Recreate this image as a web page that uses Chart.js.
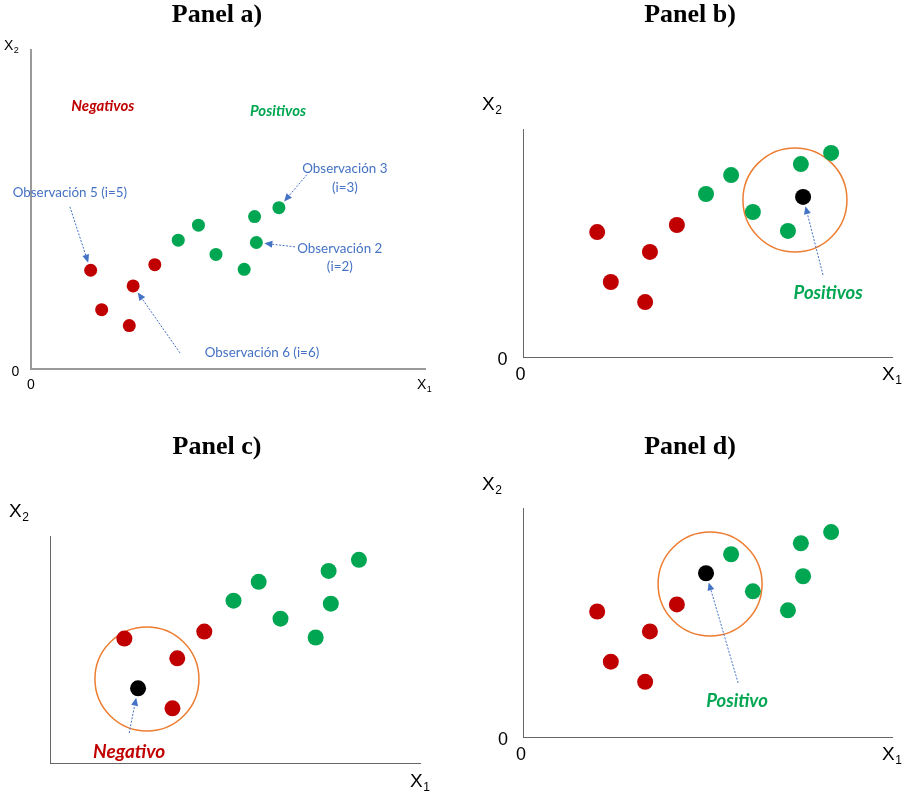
<!DOCTYPE html>
<html>
<head>
<meta charset="utf-8">
<script src="https://cdn.jsdelivr.net/npm/chart.js@4.4.0/dist/chart.umd.min.js"></script>
<style>
html, body { margin: 0; padding: 0; background: #fff; }
#wrap { position: relative; width: 911px; height: 793px; overflow: hidden; }
canvas { position: absolute; }
</style>
</head>
<body>
<div id="wrap">
  <canvas id="pa" width="455" height="400" style="left:0;top:0"></canvas>
  <canvas id="pb" width="456" height="400" style="left:455px;top:0"></canvas>
  <canvas id="pc" width="455" height="393" style="left:0;top:400px"></canvas>
  <canvas id="pd" width="456" height="393" style="left:455px;top:400px"></canvas>
</div>
<script>
// observaciones (las mismas 12 en los cuatro paneles)
const x1 = [20.1, 23.8, 33.1, 34.4, 41.7, 49.6, 56.4, 62.3, 71.8, 75.3, 83.5, 75.9];
const x2 = [54.8, 32.9, 24.1, 46.1, 57.9, 71.5, 79.8, 63.6, 55.3, 84.6, 89.5, 70.2];
const clase = ['N', 'N', 'N', 'N', 'N', 'P', 'P', 'P', 'P', 'P', 'P', 'P'];

const titulos = ['Panel a)', 'Panel b)', 'Panel c)', 'Panel d)'];
const nuevaObs = [null, 11, 1, 5];          // punto negro de cada panel
const vecX = [null, 73.7, 26.2, 50.7];      // centro del vecindario
const vecY = [null, 68.9, 37.0, 66.8];
const xMax = [132.7, 100, 100, 100];
const yMax = [177, 100, 100, 100];

const ROJO = '#C00000', VERDE = '#00A651', AZUL = '#4472C4', NARANJA = '#ED7D31';

// layout / texto de cada panel
const panels = [
  {
    id: 'pa', pad: { left: 31, top: 50, right: 30, bottom: 31 }, r: 6.5,
    axis: { color: '#9a9a9a', width: 2 },
    title: { x: 217, y: 15 },
    xLab: { x: 417, y: 389, size: 14 }, yLab: { x: 4, y: 50, size: 14 },
    zeros: [{ x: 15.5, y: 372 }, { x: 31, y: 385 }], zeroSize: 14,
    labels: [
      { t: 'Negativos', x: 24.2, y: 145.6, c: ROJO, f: 'italic bold 15px Lato' },
      { t: 'Positivos', x: 83.2, y: 142.8, c: VERDE, f: 'italic bold 15px Lato' },
      { t: 'Observación 3', x: 105.7, y: 111.1, c: AZUL, f: '13.4px Lato' },
      { t: '(i=3)', x: 105.7, y: 100.6, c: AZUL, f: '13.4px Lato' },
      { t: 'Observación 5 (i=5)', x: 13.1, y: 97.8, c: AZUL, f: '13.4px Lato' },
      { t: 'Observación 2', x: 104, y: 66.7, c: AZUL, f: '13.4px Lato' },
      { t: '(i=2)', x: 104, y: 56.7, c: AZUL, f: '13.4px Lato' },
      { t: 'Observación 6 (i=6)', x: 77.8, y: 8.9, c: AZUL, f: '13.4px Lato' }
    ],
    arrows: [
      { x: 92.9, y: 107.8, to: 10 },
      { x: 13.1, y: 90, to: 0 },
      { x: 88.9, y: 67.8, to: 11 },
      { x: 50.2, y: 8.9, to: 3 }
    ]
  },
  {
    id: 'pb', pad: { left: 68, top: 129, right: 19, bottom: 43 }, r: 8,
    axis: { color: '#666', width: 1 },
    title: { x: 235, y: 15 },
    xLab: { x: 427, y: 380, size: 19 }, yLab: { x: 27, y: 110, size: 19 },
    zeros: [{ x: 47.5, y: 360 }, { x: 65.5, y: 375 }], zeroSize: 18,
    labels: [
      { t: 'Positivos', x: 82.7, y: 28.1, c: VERDE, f: 'italic bold 18.5px Lato' }
    ],
    arrows: [{ x: 81.3, y: 36, to: 11 }]
  },
  {
    id: 'pc', pad: { left: 50, top: 136, right: 35, bottom: 30 }, r: 8,
    axis: { color: '#666', width: 1 },
    title: { x: 217, y: 47 },
    xLab: { x: 410, y: 387, size: 19 }, yLab: { x: 9, y: 117, size: 19 },
    zeros: [], zeroSize: 18,
    labels: [
      { t: 'Negativo', x: 21.4, y: 4.8, c: ROJO, f: 'italic bold 19px Lato' }
    ],
    arrows: [{ x: 21.4, y: 13.2, to: 1 }]
  },
  {
    id: 'pd', pad: { left: 68, top: 108, right: 19, bottom: 56 }, r: 8,
    axis: { color: '#666', width: 1 },
    title: { x: 235, y: 47 },
    xLab: { x: 427, y: 360, size: 19 }, yLab: { x: 27, y: 90, size: 19 },
    zeros: [{ x: 48, y: 340 }, { x: 66, y: 355 }], zeroSize: 18,
    labels: [
      { t: 'Positivo', x: 58, y: 15.7, c: VERDE, f: 'italic bold 18.5px Lato' }
    ],
    arrows: [{ x: 58.3, y: 23.6, to: 5 }]
  }
];

function drawSub(ctx, x, base, sub, size) {
  ctx.font = size + 'px "Liberation Sans"';
  ctx.textAlign = 'left';
  ctx.textBaseline = 'alphabetic';
  ctx.fillStyle = '#000';
  ctx.fillText('X', x, base);
  const w = ctx.measureText('X').width;
  ctx.font = Math.round(size * 0.62) + 'px "Liberation Sans"';
  ctx.fillText(sub, x + w + 0.5, base + size * 0.22);
}

function drawArrow(ctx, sx, sy, ex, ey) {
  const ang = Math.atan2(ey - sy, ex - sx);
  const head = 8;
  ctx.save();
  ctx.strokeStyle = AZUL;
  ctx.fillStyle = AZUL;
  ctx.lineWidth = 1;
  ctx.setLineDash([2, 1.5]);
  ctx.beginPath();
  ctx.moveTo(sx, sy);
  ctx.lineTo(ex - Math.cos(ang) * head, ey - Math.sin(ang) * head);
  ctx.stroke();
  ctx.setLineDash([]);
  ctx.beginPath();
  ctx.moveTo(ex, ey);
  ctx.lineTo(ex - Math.cos(ang) * head - Math.sin(ang) * 3.5, ey - Math.sin(ang) * head + Math.cos(ang) * 3.5);
  ctx.lineTo(ex - Math.cos(ang) * head + Math.sin(ang) * 3.5, ey - Math.sin(ang) * head - Math.cos(ang) * 3.5);
  ctx.closePath();
  ctx.fill();
  ctx.restore();
}

function makeDiagram(p, k) {
  return {
    id: 'diagram' + k,
    afterDraw(chart) {
      const ctx = chart.ctx;
      const sx = chart.scales.x, sy = chart.scales.y;
      ctx.save();
      // titulo
      ctx.font = 'bold 26px "Liberation Serif"';
      ctx.fillStyle = '#000';
      ctx.textAlign = 'center';
      ctx.textBaseline = 'middle';
      ctx.fillText(titulos[k], p.title.x, p.title.y);
      // ejes
      drawSub(ctx, p.yLab.x, p.yLab.y, '2', p.yLab.size);
      drawSub(ctx, p.xLab.x, p.xLab.y, '1', p.xLab.size);
      ctx.font = p.zeroSize + 'px "Liberation Sans"';
      ctx.textAlign = 'center';
      ctx.textBaseline = 'middle';
      p.zeros.forEach(z => ctx.fillText('0', z.x, z.y));
      // etiquetas
      p.labels.forEach(l => {
        ctx.font = l.f;
        ctx.fillStyle = l.c;
        ctx.fillText(l.t, sx.getPixelForValue(l.x), sy.getPixelForValue(l.y));
      });
      // flechas hacia las observaciones
      p.arrows.forEach(a => {
        const ax = sx.getPixelForValue(a.x), ay = sy.getPixelForValue(a.y);
        const px = sx.getPixelForValue(x1[a.to]), py = sy.getPixelForValue(x2[a.to]);
        const d = Math.hypot(ax - px, ay - py);
        const off = p.r + 1.5;
        drawArrow(ctx, ax, ay, px + (ax - px) / d * off, py + (ay - py) / d * off);
      });
      ctx.restore();
    }
  };
}

panels.forEach((p, k) => {
  const q = nuevaObs[k];
  const neg = [], pos = [], nueva = [];
  x1.forEach((v, i) => {
    const pt = { x: v, y: x2[i] };
    if (i === q) nueva.push(pt);
    else if (clase[i] === 'N') neg.push(pt);
    else pos.push(pt);
  });
  const datasets = [
    { label: 'Negativos', data: neg, backgroundColor: ROJO, pointRadius: p.r, pointBorderWidth: 0 },
    { label: 'Positivos', data: pos, backgroundColor: VERDE, pointRadius: p.r, pointBorderWidth: 0 },
    { label: 'Nueva', data: nueva, backgroundColor: '#000', pointRadius: p.r, pointBorderWidth: 0 }
  ];
  if (vecX[k] !== null) {
    datasets.push({
      label: 'Vecindario', data: [{ x: vecX[k], y: vecY[k] }],
      backgroundColor: 'rgba(0,0,0,0)', borderColor: NARANJA,
      pointRadius: 52, pointBorderWidth: 1.5, clip: false
    });
  }
  const axisOpts = (max) => ({
    type: 'linear', min: 0, max: max,
    ticks: { display: false },
    grid: { display: false, drawTicks: false },
    border: { display: true, color: p.axis.color, width: p.axis.width }
  });
  new Chart(document.getElementById(p.id), {
    type: 'scatter',
    data: { datasets: datasets },
    options: {
      responsive: false,
      animation: false,
      devicePixelRatio: 1,
      layout: { padding: p.pad, autoPadding: false },
      plugins: { legend: { display: false }, tooltip: { enabled: false }, title: { display: false } },
      scales: { x: axisOpts(xMax[k]), y: axisOpts(yMax[k]) }
    },
    plugins: [makeDiagram(p, k)]
  });
});
</script>
</body>
</html>
